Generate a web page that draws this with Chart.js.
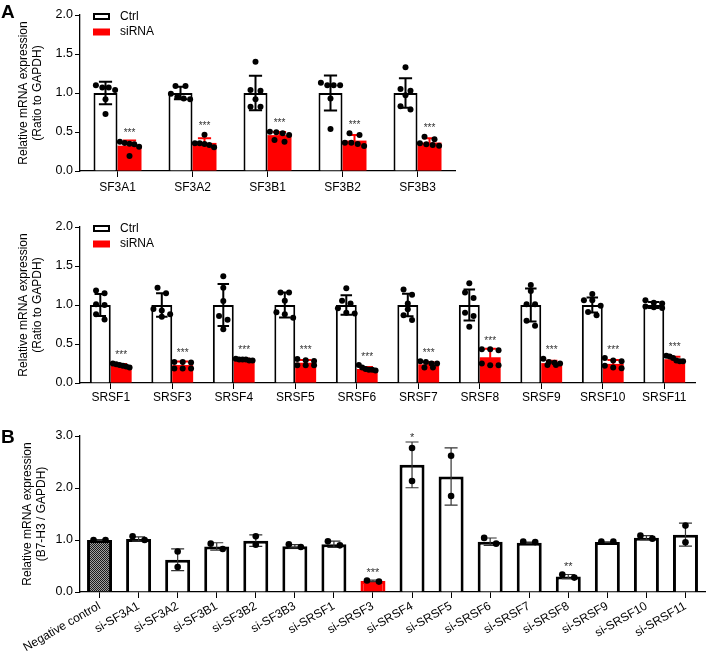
<!DOCTYPE html>
<html><head><meta charset="utf-8">
<script src="https://cdn.jsdelivr.net/npm/chart.js@4.4.1/dist/chart.umd.min.js"></script>
<style>
html,body{margin:0;padding:0;background:#fff;}
body{width:707px;height:653px;position:relative;overflow:hidden;font-family:'Liberation Sans',Arial,sans-serif;}
canvas{position:absolute;left:0;}
.lbl{position:absolute;left:1px;font-weight:bold;font-size:19px;line-height:19px;color:#000;z-index:5;}
</style></head><body>
<div class="lbl" style="top:2px">A</div>
<div class="lbl" style="top:427px">B</div>
<canvas id="c1" width="707" height="200" style="top:0"></canvas>
<canvas id="c2" width="707" height="220" style="top:200px"></canvas>
<canvas id="c3" width="707" height="233" style="top:420px"></canvas>
<script>
// ---------------- DATA ----------------
const seriesLabels = ['Ctrl', 'siRNA'];
const aTickValues = [0, 0.5, 1.0, 1.5, 2.0];
const bTickValues = [0, 1.0, 2.0, 3.0];
const aYTitle = ['Relative mRNA expression', '(Ratio to GAPDH)'];
const bYTitle = ['Relative mRNA expression', '(B7-H3 / GAPDH)'];

const a1Categories = ['SF3A1', 'SF3A2', 'SF3B1', 'SF3B2', 'SF3B3'];
const a1CtrlMean = [1.00, 1.00, 1.00, 1.00, 1.00];
const a1CtrlSD = [0.145, 0.08, 0.22, 0.225, 0.19];
const a1CtrlPoints = [
  [1.07, 1.10, 1.07, 1.04, 0.92, 0.73],
  [1.09, 1.09, 0.99, 0.95, 0.93, 0.92],
  [1.40, 1.04, 1.03, 0.92, 0.825, 0.825],
  [1.13, 1.10, 1.10, 1.10, 0.93, 0.54],
  [1.33, 1.05, 1.03, 0.97, 0.83, 0.79]
];
const a1SiMean = [0.325, 0.36, 0.46, 0.39, 0.365];
const a1SiSD = [0.065, 0.06, 0.04, 0.07, 0.055];
const a1SiPoints = [
  [0.376, 0.342, 0.359, 0.312, 0.35, 0.192],
  [0.466, 0.333, 0.355, 0.355, 0.345, 0.303],
  [0.504, 0.496, 0.483, 0.462, 0.376, 0.397],
  [0.32, 0.46, 0.483, 0.363, 0.346, 0.363],
  [0.406, 0.44, 0.355, 0.325, 0.333, 0.342]
];
const a1Stars = ['***', '***', '***', '***', '***'];

const a2Categories = ['SRSF1', 'SRSF3', 'SRSF4', 'SRSF5', 'SRSF6', 'SRSF7', 'SRSF8', 'SRSF9', 'SRSF10', 'SRSF11'];
const a2CtrlMean = [1.00, 1.00, 1.00, 1.00, 1.00, 1.00, 1.00, 1.00, 1.00, 1.00];
const a2CtrlSD = [0.14, 0.15, 0.27, 0.16, 0.125, 0.145, 0.20, 0.21, 0.095, 0.04];
const a2CtrlPoints = [
  [1.15, 1.185, 1.01, 1.00, 0.88, 0.815],
  [1.22, 1.15, 0.95, 0.93, 0.88, 0.85],
  [1.37, 1.22, 1.05, 0.86, 0.81, 0.69],
  [1.16, 1.16, 1.056, 0.906, 0.837, 0.88],
  [1.215, 1.056, 1.02, 0.957, 0.89, 0.90],
  [1.20, 1.13, 1.02, 0.944, 0.87, 0.807],
  [1.28, 1.16, 1.09, 0.90, 0.86, 0.72],
  [1.257, 1.18, 1.01, 1.01, 0.798, 0.734],
  [1.14, 1.06, 1.06, 0.99, 0.91, 0.87],
  [1.06, 1.03, 1.02, 0.98, 0.96, 0.97]
];
const a2SiMean = [0.225, 0.23, 0.30, 0.26, 0.18, 0.24, 0.33, 0.255, 0.245, 0.305];
const a2SiSD = [0.02, 0.045, 0.01, 0.035, 0.025, 0.03, 0.11, 0.03, 0.05, 0.03];
const a2SiPoints = [
  [0.23, 0.25, 0.24, 0.22, 0.21, 0.20],
  [0.27, 0.262, 0.27, 0.185, 0.185, 0.185],
  [0.31, 0.30, 0.30, 0.29, 0.29, 0.30],
  [0.292, 0.309, 0.283, 0.227, 0.227, 0.227],
  [0.23, 0.20, 0.16, 0.17, 0.18, 0.17],
  [0.28, 0.27, 0.25, 0.25, 0.20, 0.20],
  [0.433, 0.42, 0.433, 0.227, 0.249, 0.227],
  [0.31, 0.27, 0.26, 0.25, 0.23, 0.23],
  [0.32, 0.29, 0.28, 0.22, 0.20, 0.19],
  [0.35, 0.34, 0.32, 0.29, 0.28, 0.28]
];
const a2Stars = ['***', '***', '***', '***', '***', '***', '***', '***', '***', '***'];

const bCategories = ['Negative control', 'si-SF3A1', 'si-SF3A2', 'si-SF3B1', 'si-SF3B2', 'si-SF3B3', 'si-SRSF1', 'si-SRSF3',
  'si-SRSF4', 'si-SRSF5', 'si-SRSF6', 'si-SRSF7', 'si-SRSF8', 'si-SRSF9', 'si-SRSF10', 'si-SRSF11'];
const bMean = [1.00, 1.02, 0.62, 0.877, 0.987, 0.88, 0.92, 0.213, 2.445, 2.22, 0.968, 0.948, 0.297, 0.96, 1.045, 1.103];
const bErr = [0.01, 0.04, 0.21, 0.07, 0.11, 0.03, 0.06, 0.015, 0.44, 0.55, 0.07, 0.01, 0.04, 0.005, 0.04, 0.22];
const bPoints = [
  [1.00, 1.00], [1.00, 1.07], [0.78, 0.48], [0.826, 0.93], [1.07, 0.91], [0.865, 0.916], [0.897, 0.974],
  [0.20, 0.22], [2.77, 2.135], [2.62, 1.845], [0.93, 1.04], [0.96, 0.968], [0.277, 0.335], [0.968, 0.968],
  [1.026, 1.084], [1.277, 0.955]
];
const bStars = ['', '', '', '', '', '', '', '***', '*', '', '', '', '**', '', '', ''];
const bHighlight = 'si-SRSF3';
const bControl = 'Negative control';

// ---------------- RENDERING ----------------
const FONT = "'Liberation Sans', Arial, Helvetica, sans-serif";
Chart.defaults.font.family = FONT;
Chart.defaults.color = '#000';

function swarmOffsets(ys, d, sBase, maxSpan) {
  const idx = ys.map((v, i) => i).sort((a, b) => ys[a] - ys[b]);
  const off = new Array(ys.length).fill(0);
  let row = [], start = null;
  const flush = () => {
    const n = row.length;
    const s = n > 1 ? Math.min(sBase, maxSpan / (n - 1)) : 0;
    row.forEach((k, j) => { off[k] = (j - (n - 1) / 2) * s; });
  };
  idx.forEach(k => {
    if (start === null) { start = ys[k]; row = [k]; }
    else if (ys[k] - start < d) { row.push(k); }
    else { flush(); row = [k]; start = ys[k]; }
  });
  if (row.length) flush();
  return off;
}

const overlayPlugin = {
  id: 'overlay',
  afterDatasetsDraw(chart, args, opts) {
    const ctx = chart.ctx, y = chart.scales.y;
    ctx.save();
    opts.groups.forEach(g => {
      const meta = chart.getDatasetMeta(g.ds);
      g.means.forEach((m, j) => {
        const bar = meta.data[j];
        const x = bar.x, w = bar.width;
        const sd = g.sds[j];
        const yT = y.getPixelForValue(m + sd), yB = y.getPixelForValue(Math.max(m - sd, 0));
        const cw = w * g.capFrac / 2;
        ctx.strokeStyle = g.errColor; ctx.lineWidth = g.errWidth; ctx.lineCap = 'butt';
        ctx.beginPath();
        ctx.moveTo(x, yB); ctx.lineTo(x, yT);
        ctx.moveTo(x - cw, yT); ctx.lineTo(x + cw, yT);
        ctx.moveTo(x - cw, yB); ctx.lineTo(x + cw, yB);
        ctx.stroke();
        const ys = g.points[j].map(v => y.getPixelForValue(v));
        const offs = swarmOffsets(ys, opts.rowGap, opts.spacing, w * opts.spanFrac);
        ctx.fillStyle = '#000';
        ys.forEach((py, k) => { ctx.beginPath(); ctx.arc(x + offs[k], py, opts.dotR, 0, Math.PI * 2); ctx.fill(); });
        if (g.stars && g.stars[j]) {
          const top = Math.min(yT, Math.min(...ys) - opts.dotR);
          ctx.fillStyle = opts.starColor; ctx.font = opts.starSize + 'px ' + FONT;
          ctx.textAlign = 'center'; ctx.textBaseline = 'alphabetic';
          ctx.fillText(g.stars[j], x, top + opts.starOffset);
        }
      });
    });
    if (opts.legend) {
      const L = opts.legend, ca = chart.chartArea;
      chart.data.datasets.forEach((ds, i) => {
        const cy = ca.top + L.rows[i], bx = ca.left + L.boxX;
        ctx.fillStyle = ds.backgroundColor;
        ctx.fillRect(bx, cy - L.boxH / 2, L.boxW, L.boxH);
        if (ds.borderWidth) {
          ctx.strokeStyle = ds.borderColor; ctx.lineWidth = ds.borderWidth;
          ctx.strokeRect(bx + 1, cy - L.boxH / 2 + 1, L.boxW - 2, L.boxH - 2);
        }
        ctx.fillStyle = '#000'; ctx.font = '12px ' + FONT;
        ctx.textAlign = 'left'; ctx.textBaseline = 'middle';
        ctx.fillText(ds.label, ca.left + L.textX, cy);
      });
    }
    ctx.restore();
  }
};

function axes(ticksArr, maxV, title, titlePad, xHeight, xOpts) {
  return {
    x: Object.assign({
      type: 'category', offset: true,
      grid: { display: true, offset: false, drawOnChartArea: false, drawTicks: true, tickLength: 6, color: '#000', lineWidth: 1 },
      border: { display: true, color: '#000', width: 1.3 },
      afterFit(s) { s.height = xHeight; }
    }, xOpts),
    y: {
      min: 0, max: maxV,
      afterBuildTicks(s) { s.ticks = ticksArr.map(v => ({ value: v })); },
      ticks: { font: { size: 12.5 }, color: '#000', padding: 2, callback: v => Number(v).toFixed(1) },
      grid: { display: true, drawOnChartArea: false, drawTicks: true, tickLength: 5, color: '#000', lineWidth: 1 },
      border: { display: true, color: '#000', width: 1.3 },
      title: { display: true, text: title, font: { size: 12 }, color: '#000', padding: { top: titlePad, bottom: 0 } },
      afterFit(s) { s.width = 80; }
    }
  };
}

function makeA(id, cats, cM, cS, cP, sM, sS, sP, stars, catPct, pad, xHeight, spacing, tickPad) {
  new Chart(document.getElementById(id), {
    type: 'bar',
    data: {
      labels: cats,
      datasets: [
        { label: seriesLabels[0], data: cM, backgroundColor: '#ffffff', borderColor: '#000000', borderWidth: 2, borderSkipped: 'bottom', barPercentage: 1, categoryPercentage: catPct },
        { label: seriesLabels[1], data: sM, backgroundColor: '#ff0000', borderColor: '#ff0000', borderWidth: 0, barPercentage: 1, categoryPercentage: catPct }
      ]
    },
    options: {
      responsive: false, animation: false, devicePixelRatio: 1,
      layout: { padding: pad },
      plugins: {
        legend: { display: false }, tooltip: { enabled: false },
        overlay: {
          dotR: 3, rowGap: 5.5, spacing: spacing, spanFrac: 0.8, starColor: '#333', starSize: 10, starOffset: -2.5,
          groups: [
            { ds: 0, means: cM, sds: cS, points: cP, errColor: '#000', errWidth: 2, capFrac: 0.55 },
            { ds: 1, means: sM, sds: sS, points: sP, errColor: '#ff0000', errWidth: 2, capFrac: 0.55, stars: stars }
          ],
          legend: { rows: [1.5, 17], boxX: 13, boxW: 17, boxH: 7, textX: 40 }
        }
      },
      scales: axes(aTickValues, 2, aYTitle, 16, xHeight, { ticks: { font: { size: 12 }, color: '#000', padding: tickPad, maxRotation: 0, autoSkip: false } })
    },
    plugins: [overlayPlugin]
  });
}

makeA('c1', a1Categories, a1CtrlMean, a1CtrlSD, a1CtrlPoints, a1SiMean, a1SiSD, a1SiPoints, a1Stars, 0.64,
  { top: 15, right: 252, left: 0, bottom: 0 }, 29, 10, 3);
makeA('c2', a2Categories, a2CtrlMean, a2CtrlSD, a2CtrlPoints, a2SiMean, a2SiSD, a2SiPoints, a2Stars, 0.68,
  { top: 27, right: 12, left: 0, bottom: 0 }, 37, 8.5, 1);

// Panel B
const c3 = document.getElementById('c3');
const pc = document.createElement('canvas'); pc.width = 2; pc.height = 2;
const pg = pc.getContext('2d');
pg.fillStyle = '#a0a0a0'; pg.fillRect(0, 0, 2, 2);
pg.fillStyle = '#1a1a1a'; pg.fillRect(0, 0, 1, 1); pg.fillRect(1, 1, 1, 1);
const hatch = c3.getContext('2d').createPattern(pc, 'repeat');
const bFill = bCategories.map(c => c === bControl ? hatch : (c === bHighlight ? '#ff0000' : '#ffffff'));
const bBorder = bCategories.map(c => c === bHighlight ? '#ff0000' : '#000000');

new Chart(c3, {
  type: 'bar',
  data: { labels: bCategories, datasets: [{ label: 'B7-H3', data: bMean, backgroundColor: bFill, borderColor: bBorder, borderWidth: 3, borderSkipped: 'bottom', barPercentage: 0.64, categoryPercentage: 1 }] },
  options: {
    responsive: false, animation: false, devicePixelRatio: 1,
    layout: { padding: { top: 16, right: 2, left: 0, bottom: 0 } },
    plugins: {
      legend: { display: false }, tooltip: { enabled: false },
      overlay: {
        dotR: 3.3, rowGap: 6.5, spacing: 12, spanFrac: 0.5, starColor: '#333', starSize: 11, starOffset: -1,
        groups: [{ ds: 0, means: bMean, sds: bErr, points: bPoints, errColor: '#333', errWidth: 1.2, capFrac: 0.52, stars: bStars }]
      }
    },
    scales: axes(bTickValues, 3, bYTitle, 20, 61, { ticks: { font: { size: 12 }, color: '#000', padding: 1, minRotation: 30, maxRotation: 30, autoSkip: false } })
  },
  plugins: [overlayPlugin]
});
</script>
</body></html>
